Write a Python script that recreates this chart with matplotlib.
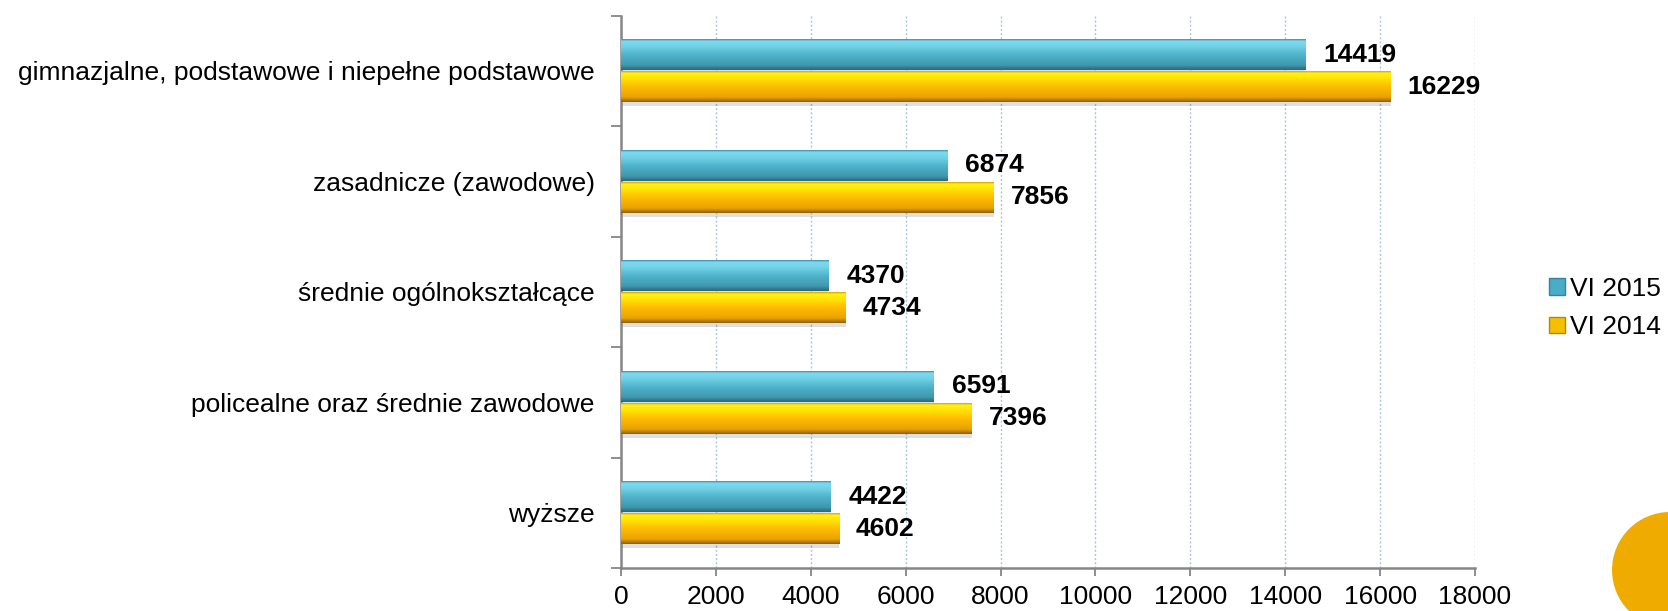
"""
Bezrobotni wg wykształcenia - VI 2015 vs VI 2014
Horizontal grouped bars in the old Office style.
"""

import numpy as np
import matplotlib
matplotlib.use("Agg")
import matplotlib.pyplot as plt
from matplotlib.colors import LinearSegmentedColormap
from matplotlib.patches import Patch, Ellipse

# ── Data ────────────────────────────────────────────────────────────────
categories = [
    "gimnazjalne, podstawowe i niepełne podstawowe",
    "zasadnicze (zawodowe)",
    "średnie ogólnokształcące",
    "policealne oraz średnie zawodowe",
    "wyższe",
]
vi_2015 = [14419, 6874, 4370, 6591, 4422]
vi_2014 = [16229, 7856, 4734, 7396, 4602]
series_labels = ["VI 2015", "VI 2014"]
x_ticks = list(range(0, 18001, 2000))

# ── Style ───────────────────────────────────────────────────────────────
W, H = 1668, 611
FS = 19
AXIS = "#868686"
GRID = "#a9c3e6"
BLUE = "#4bacc6"
ORANGE = "#ffb400"
CIRCLE = "#f0ab00"

blue_cmap = LinearSegmentedColormap.from_list("blue", [
    (0.0, "#3d93aa"), (0.06, "#7fdaee"), (0.25, "#6fd0e6"),
    (0.5, "#4fb4cc"), (0.85, "#3f98ae"), (1.0, "#2c6778")])
orange_cmap = LinearSegmentedColormap.from_list("orange", [
    (0.0, "#e0a400"), (0.06, "#fff21c"), (0.25, "#ffe000"),
    (0.5, "#ffbc00"), (0.85, "#e9a200"), (1.0, "#916200")])

plt.rcParams.update({
    "font.family": ["Liberation Sans", "DejaVu Sans"],
    "font.size": FS,
    "axes.edgecolor": AXIS,
    "xtick.color": AXIS,
    "ytick.color": AXIS,
    "xtick.labelcolor": "black",
    "ytick.labelcolor": "black",
})

fig = plt.figure(figsize=(W / 100, H / 100), dpi=100)
ax = fig.add_axes([621 / W, 43 / H, (1475 - 621) / W, (568 - 15.7) / H])

n = len(categories)
y = np.arange(n)[::-1].astype(float)
bar_h = 0.28
off = 0.145


def gradient_bars(bars, cmap):
    grad = np.linspace(0, 1, 64).reshape(-1, 1)
    for b in bars:
        x0, y0, w, h = b.get_x(), b.get_y(), b.get_width(), b.get_height()
        # soft shadow under the bar
        ax.fill_between([x0, x0 + w], y0 - 0.035, y0, color="#000000",
                        alpha=0.12, linewidth=0, zorder=2)
        im = ax.imshow(grad, cmap=cmap, aspect="auto", origin="upper",
                       extent=[x0, x0 + w, y0, y0 + h], zorder=3,
                       interpolation="bilinear")
        im.set_clip_path(b)


bars15 = ax.barh(y + off, vi_2015, bar_h, color=BLUE, zorder=3, linewidth=0)
bars14 = ax.barh(y - off, vi_2014, bar_h, color=ORANGE, zorder=3, linewidth=0)
gradient_bars(bars15, blue_cmap)
gradient_bars(bars14, orange_cmap)

# value labels
for yy, v in zip(y + off, vi_2015):
    ax.annotate(f"{v}", (v, yy), xytext=(13, 0), textcoords="offset points",
                va="center", ha="left", fontsize=FS, fontweight="bold",
                color="black", zorder=5)
for yy, v in zip(y - off, vi_2014):
    ax.annotate(f"{v}", (v, yy), xytext=(12, 0), textcoords="offset points",
                va="center", ha="left", fontsize=FS, fontweight="bold",
                color="black", zorder=5)

ax.set_xlim(0, 18000)
ax.set_ylim(-0.5, n - 0.5)
ax.set_xticks(x_ticks)
ax.set_xticklabels([str(t) for t in x_ticks])
ax.set_yticks(y)
ax.set_yticklabels(categories)
ax.set_yticks(np.arange(-0.5, n, 1.0), minor=True)

ax.tick_params(axis="y", which="major", length=0, pad=19)
ax.tick_params(axis="y", which="minor", length=7, width=1.3, direction="out")
ax.tick_params(axis="x", which="major", length=6, width=1.3, direction="out", pad=6)

for side in ("top", "right"):
    ax.spines[side].set_visible(False)
for side in ("left", "bottom"):
    ax.spines[side].set_linewidth(1.8)

ax.grid(axis="x", color=GRID, linestyle=(0, (1.5, 1.5)), linewidth=1.0, zorder=0)
ax.set_axisbelow(True)

# legend
handles = [Patch(facecolor=BLUE, edgecolor="#31859c", linewidth=1),
           Patch(facecolor="#f5c000", edgecolor="#b98600", linewidth=1)]
fig.legend(handles, series_labels, loc="center left",
           bbox_to_anchor=(1549 / W, 1 - 308 / H), frameon=False,
           fontsize=FS, handlelength=0.6, handleheight=0.6,
           handletextpad=0.2, labelspacing=0.55, borderpad=0,
           borderaxespad=0)

# decorative circle in the corner
fig.patches.append(Ellipse((1670 / W, 1 - 570 / H), 2 * 58 / W, 2 * 58 / H,
                           transform=fig.transFigure, facecolor=CIRCLE,
                           edgecolor="none"))

fig.savefig("out.png", dpi=100)
print("saved out.png")
